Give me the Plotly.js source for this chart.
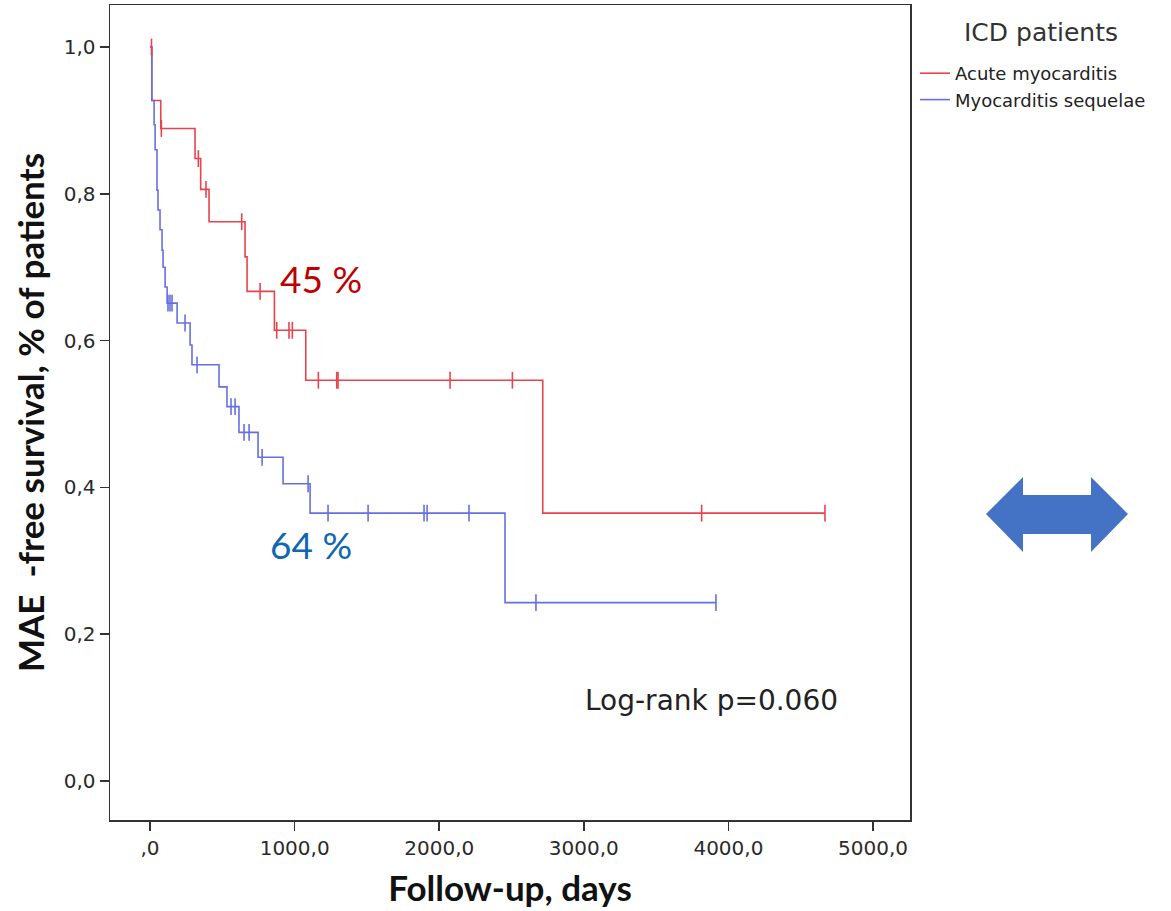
<!DOCTYPE html>
<html>
<head>
<meta charset="utf-8">
<script src="https://cdn.plot.ly/plotly-3.0.1.min.js"></script>
<style>html,body{margin:0;padding:0;background:#fff;}#chart{width:1171px;height:911px;}</style>
</head>
<body>
<div id="chart"></div>
<script>
// ---- Data ----
const seriesNames = ["Acute myocarditis", "Myocarditis sequelae"];

// Acute myocarditis: event times (days) and survival after each step
const acuteTimes = [0, 12, 74, 311, 350, 408, 657, 671, 860, 1077, 2716];
const acuteSurv  = [1.0, 0.927, 0.889, 0.848, 0.806, 0.762, 0.714, 0.667, 0.614, 0.546, 0.365];
const acuteCensored = [10, 78, 334, 387, 634, 761, 876, 961, 984, 1164, 1291, 1300, 2075, 2506, 3815, 4668];

// Myocarditis sequelae
const sequelaeTimes = [0, 12, 28, 35, 48, 55, 69, 83, 90, 104, 118, 187, 277, 290, 477, 532, 615, 747, 920, 1107, 2455];
const sequelaeSurv  = [1.0, 0.927, 0.894, 0.860, 0.805, 0.778, 0.751, 0.723, 0.700, 0.673, 0.651, 0.624, 0.594, 0.567, 0.537, 0.510, 0.475, 0.441, 0.405, 0.365, 0.243];
const sequelaeCensored = [124, 138, 152, 242, 325, 560, 588, 650, 685, 775, 1093, 1231, 1508, 1895, 1916, 2206, 2669, 3914];

const xTickVals = [0, 1000, 2000, 3000, 4000, 5000];
const xTickText = [",0", "1000,0", "2000,0", "3000,0", "4000,0", "5000,0"];
const yTickVals = [0, 0.2, 0.4, 0.6, 0.8, 1.0];
const yTickText = ["0,0", "0,2", "0,4", "0,6", "0,8", "1,0"];

const legendTitle = "ICD patients";
const xTitle = "Follow-up, days";
const yTitle = "MAE  -free survival, % of patients";
const pctAcute = "45 %";
const pctSequelae = "64 %";
const logRank = "Log-rank p=0.060";

// ---- Helpers ----
function survAt(times, surv, t) {
  let s = surv[0];
  for (let i = 0; i < times.length; i++) { if (times[i] <= t) s = surv[i]; }
  return s;
}
function stepTrace(times, surv, censored, name, color) {
  const end = Math.max(...censored, ...times);
  return {
    x: times.concat([end]), y: surv.concat([surv[surv.length - 1]]),
    type: "scatter", mode: "lines", line: {shape: "hv", color: color, width: 1.6},
    name: name, showlegend: true, hoverinfo: "x+y"
  };
}
function censorTrace(times, surv, censored, name, color) {
  return {
    x: censored, y: censored.map(t => survAt(times, surv, t)),
    type: "scatter", mode: "markers", showlegend: false, name: name,
    marker: {symbol: "line-ns", size: 12, color: color, line: {color: color, width: 1.6}}
  };
}

const red = "#e8434d", blue = "#6570e0";
const data = [
  stepTrace(acuteTimes, acuteSurv, acuteCensored, seriesNames[0], red),
  stepTrace(sequelaeTimes, sequelaeSurv, sequelaeCensored, seriesNames[1], blue),
  censorTrace(acuteTimes, acuteSurv, acuteCensored, seriesNames[0], red),
  censorTrace(sequelaeTimes, sequelaeSurv, sequelaeCensored, seriesNames[1], blue)
];

// pixel -> paper helpers for decorative placement
const L = 110, R = 910, T = 5, B = 820;
const px = v => (v - L) / (R - L);
const py = v => (B - v) / (B - T);
const arrowPts = [[986,514],[1023,477],[1023,495],[1091,495],[1091,477],[1128,514],[1091,552],[1091,534],[1023,534],[1023,552]];
const arrowPath = "M " + arrowPts.map(p => px(p[0]).toFixed(5) + "," + py(p[1]).toFixed(5)).join(" L ") + " Z";

const axisFont = {family: "DejaVu Sans", size: 20, color: "#2a2a2a"};
const layout = {
  width: 1171, height: 911,
  margin: {l: L, r: 1171 - R, t: T, b: 911 - B, pad: 0},
  paper_bgcolor: "#fff", plot_bgcolor: "#fff",
  xaxis: {
    range: [-277, 5256], tickvals: xTickVals, ticktext: xTickText,
    ticks: "outside", ticklen: 9, tickwidth: 1.5, tickcolor: "#333",
    showline: true, linecolor: "#333", linewidth: 1.5, mirror: true,
    showgrid: false, zeroline: false, tickfont: axisFont,
    title: {text: xTitle, font: {family: "Lato", size: 35, color: "#111", weight: 700}, standoff: 18}
  },
  yaxis: {
    range: [-0.0531, 1.0572], tickvals: yTickVals, ticktext: yTickText,
    ticks: "outside", ticklen: 9, tickwidth: 1.5, tickcolor: "#333",
    showline: true, linecolor: "#333", linewidth: 1.5, mirror: true,
    showgrid: false, zeroline: false, tickfont: axisFont,
    title: {text: yTitle, font: {family: "Lato", size: 35, color: "#111", weight: 700}, standoff: 8}
  },
  legend: {
    x: px(915), xanchor: "left", y: py(55), yanchor: "top",
    bgcolor: "rgba(0,0,0,0)", borderwidth: 0,
    font: {family: "DejaVu Sans", size: 18, color: "#222"},
    tracegroupgap: 0
  },
  annotations: [
    {x: px(1041), y: py(32), xref: "paper", yref: "paper", xanchor: "center", yanchor: "middle",
     text: legendTitle, showarrow: false,
     font: {family: "DejaVu Sans", size: 25, color: "#333"}},
    {x: 1180, y: 0.684, xref: "x", yref: "y", xanchor: "center", yanchor: "middle",
     text: pctAcute, showarrow: false,
     font: {family: "Lato", size: 37, color: "#c00000"}},
    {x: 1110, y: 0.322, xref: "x", yref: "y", xanchor: "center", yanchor: "middle",
     text: pctSequelae, showarrow: false,
     font: {family: "Lato", size: 37, color: "#0f66b3"}},
    {x: 3880, y: 0.11, xref: "x", yref: "y", xanchor: "center", yanchor: "middle",
     text: logRank, showarrow: false,
     font: {family: "DejaVu Sans", size: 28, color: "#222"}}
  ],
  shapes: [
    {type: "path", xref: "paper", yref: "paper", path: arrowPath,
     fillcolor: "#4472c4", line: {width: 0}, layer: "above"}
  ]
};

Plotly.newPlot("chart", data, layout, {displayModeBar: false, staticPlot: true});
</script>
</body>
</html>
